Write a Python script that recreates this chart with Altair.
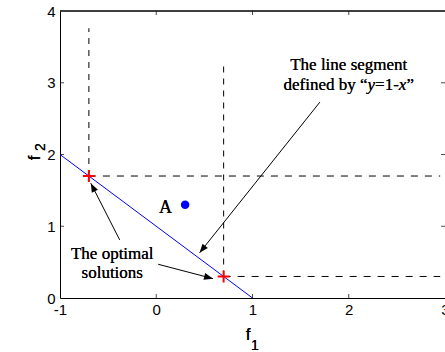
import math
import altair as alt
import pandas as pd

# ---- data ----
x_ticks = [-1, 0, 1, 2, 3]
y_ticks = [0, 1, 2, 3, 4]

# the segment y = 1 - x
seg_f1 = [-1, 1]
seg_f2 = [2, 0]

# the two optimal solutions on the segment
opt_f1 = [-0.7, 0.7]
opt_f2 = [1.7, 0.3]

# point A
a_f1 = [0.3]
a_f2 = [1.3]

# dashed guides from each optimal solution
vguide_top = [3.76, 3.3]
hguide_end = [2.95, 2.95]

# annotation arrows: tail (x0, y0) -> head (x1, y1)
arrow_x0 = [1.70, -0.38, 0.02]
arrow_y0 = [2.73, 0.81, 0.47]
arrow_x1 = [0.45, -0.68, 0.59]
arrow_y1 = [0.63, 1.60, 0.27]

# ---- layout ----
W, H = 385, 287
PAD = {"left": 60, "top": 11, "right": 0, "bottom": 54}
PX = W / (x_ticks[-1] - x_ticks[0])
PY = H / (y_ticks[-1] - y_ticks[0])

SANS = "Liberation Sans"
SERIF = "Liberation Serif"
BLUE = "#0000ff"
RED = "#ff0000"

xs = alt.Scale(domain=[x_ticks[0], x_ticks[-1]], nice=False, zero=False)
ys = alt.Scale(domain=[y_ticks[0], y_ticks[-1]], nice=False, zero=False)

x_axis = alt.Axis(values=x_ticks, grid=False, ticks=False, domainColor="black",
                  domainWidth=1, labelFont=SANS, labelFontSize=15, labelColor="black",
                  labelPadding=4, labelFlush=False, labelOverlap=False,
                  labelExpr="'' + datum.value")
y_axis = alt.Axis(values=y_ticks, grid=False, ticks=False, domainColor="black",
                  domainWidth=1, labelFont=SANS, labelFontSize=15, labelColor="black",
                  labelPadding=5, labelFlush=False, labelOverlap=False,
                  labelExpr="'' + datum.value")


def X(field):
    return alt.X(field, type="quantitative", scale=xs, title=None)


def Y(field):
    return alt.Y(field, type="quantitative", scale=ys, title=None)


# blue segment y = 1 - x (carries the axes)
seg_df = pd.DataFrame({"f1": seg_f1, "f2": seg_f2})
segment = alt.Chart(seg_df).mark_line(color=BLUE, strokeWidth=1).encode(
    x=alt.X("f1:Q", scale=xs, axis=x_axis, title=None),
    y=alt.Y("f2:Q", scale=ys, axis=y_axis, title=None),
)

# dashed guides
v_df = pd.DataFrame({"f1": opt_f1, "lo": opt_f2, "hi": vguide_top})
h_df = pd.DataFrame({"f2": opt_f2, "lo": opt_f1, "hi": hguide_end})
vguides = alt.Chart(v_df).mark_rule(color="black", strokeWidth=1, strokeDash=[6, 6]).encode(
    x=X("f1"), y=Y("lo"), y2="hi:Q")
hguides = alt.Chart(h_df).mark_rule(color="black", strokeWidth=1, strokeDash=[7, 7]).encode(
    y=Y("f2"), x=X("lo"), x2="hi:Q")

# optimal solutions as red plus signs
opt_df = pd.DataFrame({"f1": opt_f1, "f2": opt_f2})
crosses = alt.Chart(opt_df).mark_point(
    shape="M-1,0H1M0,-1V1", filled=False, stroke=RED, strokeWidth=2, size=144, opacity=1
).encode(x=X("f1"), y=Y("f2"))

# point A
a_df = pd.DataFrame({"f1": a_f1, "f2": a_f2})
point_a = alt.Chart(a_df).mark_circle(color=BLUE, size=72, opacity=1).encode(
    x=X("f1"), y=Y("f2"))

# arrows
def head_angle(x0, y0, x1, y1):
    dx = (x1 - x0) * PX
    dy = -(y1 - y0) * PY
    return math.degrees(math.atan2(dx, -dy)) % 360


arr_df = pd.DataFrame({"x0": arrow_x0, "y0": arrow_y0, "x1": arrow_x1, "y1": arrow_y1})
arr_df["ang"] = [head_angle(*r) for r in zip(arrow_x0, arrow_y0, arrow_x1, arrow_y1)]
shafts = alt.Chart(arr_df).mark_rule(color="black", strokeWidth=1).encode(
    x=X("x0"), y=Y("y0"), x2="x1:Q", y2="y1:Q")
heads = alt.Chart(arr_df).mark_point(
    shape="M0,0L-0.38,1L0.38,1Z", filled=True, color="black", strokeWidth=0,
    size=324, opacity=1
).encode(x=X("x1"), y=Y("y1"), angle=alt.Angle("ang:Q", scale=None))

# inward tick marks on all four sides, plus the top edge of the box
inner_x = pd.DataFrame({"v": x_ticks[1:-1]})
inner_y = pd.DataFrame({"v": y_ticks[1:-1]})
tick_len = 4
ticks_bottom = alt.Chart(inner_x).mark_tick(
    orient="vertical", size=tick_len, thickness=1, color="black", yOffset=-tick_len / 2
).encode(x=X("v"), y=alt.datum(y_ticks[0]))
ticks_top = alt.Chart(inner_x).mark_tick(
    orient="vertical", size=tick_len, thickness=1, color="black", yOffset=tick_len / 2
).encode(x=X("v"), y=alt.datum(y_ticks[-1]))
ticks_left = alt.Chart(inner_y).mark_tick(
    orient="horizontal", size=tick_len, thickness=1, color="black", xOffset=tick_len / 2
).encode(y=Y("v"), x=alt.datum(x_ticks[0]))
ticks_right = alt.Chart(inner_y).mark_tick(
    orient="horizontal", size=tick_len, thickness=1, color="black", xOffset=-tick_len / 2
).encode(y=Y("v"), x=alt.datum(x_ticks[-1]))
top_edge = alt.Chart(seg_df).mark_rule(color="black", strokeWidth=1).encode(
    x=alt.datum(x_ticks[0]), x2=alt.datum(x_ticks[-1]), y=alt.datum(y_ticks[-1]))


# ---- annotations ----
def label(text, x, y, size=17, align="center", dx=0, italic=False, font=SERIF):
    return alt.Chart(seg_df).mark_text(
        text=text, font=font, fontSize=size, align=align, baseline="alphabetic",
        color="black", dx=dx, fontStyle="italic" if italic else "normal"
    ).encode(x=alt.datum(x), y=alt.datum(y))


# Times advance widths (per 1000 em) for the mixed-style second line
TIMES = {"d": 500, "e": 444, "f": 333, "i": 278, "n": 500, " ": 250, "b": 500,
         "y": 500, "\u201c": 444, "\u201d": 444, "=": 564, "1": 500, "-": 333, "x": 500}
TIMES_IT = {"y": 444, "x": 444}
pieces = [("defined by \u201c", False), ("y", True), ("=1-", False), ("x", True),
          ("\u201d", False)]


def width(s, italic, size=17):
    tbl = TIMES_IT if italic else TIMES
    return sum(tbl.get(c, 500) for c in s) * size / 1000


total = sum(width(s, it) for s, it in pieces)
seg_note_x, seg_note_y1, seg_note_y2 = 2.0, 3.18, 2.90
notes = [label("The line segment", seg_note_x, seg_note_y1)]
off = -total / 2
for s, it in pieces:
    notes.append(label(s, seg_note_x, seg_note_y2, align="left", dx=off, italic=it))
    off += width(s, it)

notes += [
    label("The optimal", -0.457, 0.544),
    label("solutions", -0.457, 0.283),
    label("A", 0.096, 1.185, size=18),
]

# axis titles f1 and f2 with subscripts
def title_text(text, x, y, size, align, angle=0):
    return alt.Chart(seg_df).mark_text(
        text=text, font=SANS, fontSize=size, align=align, baseline="alphabetic",
        color="black", angle=angle
    ).encode(x=alt.value(x), y=alt.value(y))


titles = [
    title_text("f", 248 - PAD["left"], 340 - PAD["top"], 17, "center"),
    title_text("1", 251 - PAD["left"], 350 - PAD["top"], 14, "left"),
    title_text("f", 40 - PAD["left"], 158 - PAD["top"], 17, "center", angle=270),
    title_text("2", 45 - PAD["left"], 151 - PAD["top"], 14, "left", angle=270),
]

chart = alt.layer(
    segment, vguides, hguides, top_edge, ticks_bottom, ticks_top, ticks_left, ticks_right,
    shafts, heads, crosses, point_a, *notes, *titles
).properties(
    width=W, height=H, padding=PAD, autosize=alt.AutoSizeParams(type="none"),
    background="white"
).configure_view(stroke=None)

chart.save("out.html", embed_options={"renderer": "svg", "actions": False})
